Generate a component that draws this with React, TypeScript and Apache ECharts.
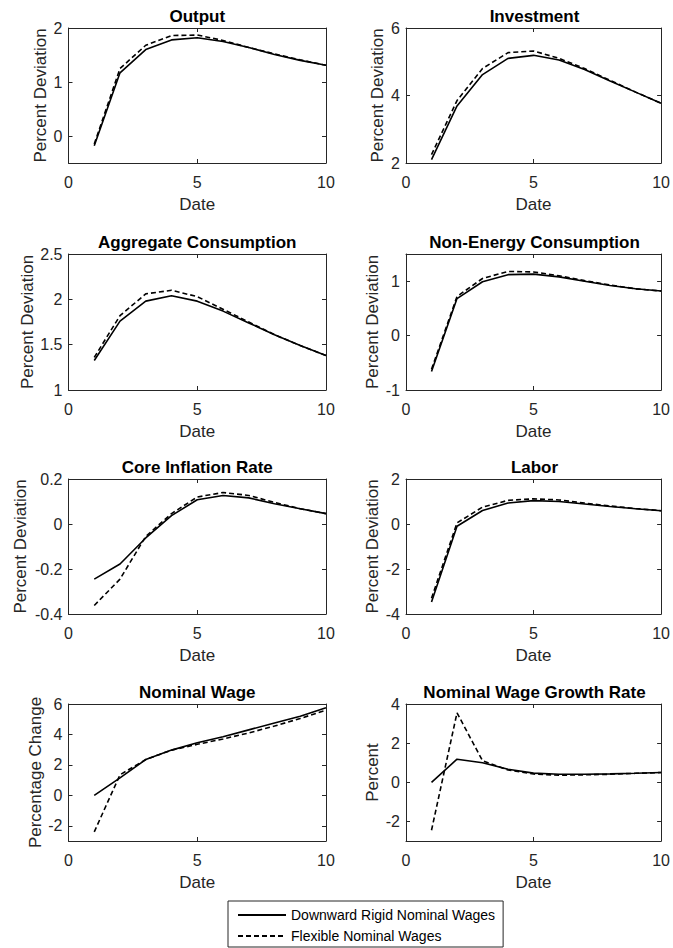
import React, { useEffect, useRef } from "react";
import * as echarts from "echarts";

const dates = [1, 2, 3, 4, 5, 6, 7, 8, 9, 10];
const xTicks = [0, 5, 10];

const seriesNames = ["Downward Rigid Nominal Wages", "Flexible Nominal Wages"];

const outputRigid = [-0.18, 1.17, 1.6, 1.78, 1.82, 1.75, 1.64, 1.51, 1.4, 1.31];
const outputFlex = [-0.15, 1.25, 1.68, 1.86, 1.87, 1.77, 1.64, 1.52, 1.41, 1.31];

const investmentRigid = [2.1, 3.69, 4.62, 5.1, 5.19, 5.05, 4.77, 4.43, 4.1, 3.77];
const investmentFlex = [2.25, 3.85, 4.8, 5.27, 5.32, 5.1, 4.8, 4.45, 4.1, 3.77];

const aggConsRigid = [1.325, 1.76, 1.98, 2.04, 1.98, 1.87, 1.74, 1.61, 1.49, 1.38];
const aggConsFlex = [1.36, 1.82, 2.06, 2.1, 2.03, 1.89, 1.75, 1.61, 1.49, 1.38];

const nonEnergyRigid = [-0.66, 0.68, 0.99, 1.12, 1.13, 1.08, 1.0, 0.92, 0.86, 0.82];
const nonEnergyFlex = [-0.62, 0.72, 1.05, 1.18, 1.17, 1.1, 1.01, 0.93, 0.86, 0.82];

const coreInflRigid = [-0.245, -0.178, -0.062, 0.037, 0.108, 0.127, 0.116, 0.09, 0.068, 0.046];
const coreInflFlex = [-0.362, -0.245, -0.055, 0.046, 0.12, 0.14, 0.127, 0.096, 0.068, 0.046];

const laborRigid = [-3.47, -0.1, 0.6, 0.93, 1.04, 1.0, 0.89, 0.78, 0.68, 0.59];
const laborFlex = [-3.3, 0.05, 0.75, 1.05, 1.12, 1.07, 0.93, 0.8, 0.69, 0.59];

const wageRigid = [0, 1.15, 2.35, 2.97, 3.45, 3.85, 4.3, 4.75, 5.2, 5.75];
const wageFlex = [-2.4, 1.35, 2.35, 2.97, 3.35, 3.7, 4.1, 4.55, 5.05, 5.6];

const growthRigid = [0, 1.18, 1.0, 0.67, 0.47, 0.41, 0.41, 0.43, 0.46, 0.5];
const growthFlex = [-2.45, 3.55, 1.1, 0.63, 0.42, 0.36, 0.38, 0.41, 0.46, 0.5];

const titles = [
  "Output",
  "Investment",
  "Aggregate Consumption",
  "Non-Energy Consumption",
  "Core Inflation Rate",
  "Labor",
  "Nominal Wage",
  "Nominal Wage Growth Rate",
];
const yNames = [
  "Percent Deviation",
  "Percent Deviation",
  "Percent Deviation",
  "Percent Deviation",
  "Percent Deviation",
  "Percent Deviation",
  "Percentage Change",
  "Percent",
];
const yMins = [-0.5, 2, 1, -1, -0.4, -4, -3, -3];
const yMaxs = [2, 6, 2.5, 1.5, 0.2, 2, 6, 4];
const yTicks = [
  [0, 1, 2],
  [2, 4, 6],
  [1, 1.5, 2, 2.5],
  [-1, 0, 1],
  [-0.4, -0.2, 0, 0.2],
  [-4, -2, 0, 2],
  [-2, 0, 2, 4, 6],
  [-2, 0, 2, 4],
];
const rigidData = [outputRigid, investmentRigid, aggConsRigid, nonEnergyRigid, coreInflRigid, laborRigid, wageRigid, growthRigid];
const flexData = [outputFlex, investmentFlex, aggConsFlex, nonEnergyFlex, coreInflFlex, laborFlex, wageFlex, growthFlex];

const AX = "#262626";
const FONT = "Liberation Sans, Arial, Helvetica, sans-serif";

export default function App() {
  const ref = useRef<HTMLDivElement>(null);
  useEffect(() => {
    document.body.style.margin = "0";
    const chart = echarts.init(ref.current!, null, { renderer: "svg" });

    const colLeft = [68.5, 406];
    const colWidth = [257.5, 257];
    const rowTop = [28, 254, 479, 704];
    const rowHeight = [135, 136, 135, 137];
    const nameGaps = [20, 20.5, 33, 25.5, 40, 25.5, 25, 25.5];

    const grids: any[] = [];
    const xAxes: any[] = [];
    const yAxes: any[] = [];
    const series: any[] = [];
    const titleArr: any[] = [];

    for (let i = 0; i < 8; i++) {
      const c = i % 2;
      const r = Math.floor(i / 2);
      grids.push({
        left: colLeft[c],
        top: rowTop[r],
        width: colWidth[c],
        height: rowHeight[r],
        show: false,
      });
      titleArr.push({
        text: titles[i],
        left: colLeft[c] + colWidth[c] / 2,
        top: rowTop[r] - 20,
        textAlign: "center",
        padding: 0,
        textStyle: { fontFamily: FONT, fontSize: 17, fontWeight: "bold", color: "#000" },
      });
      const lineStyle = { color: AX, width: 1 };
      xAxes.push({
        type: "value",
        gridIndex: i,
        min: 0,
        max: 10,
        position: "bottom",
        name: "Date",
        nameLocation: "middle",
        nameGap: 33,
        nameTextStyle: { fontFamily: FONT, fontSize: 17, color: AX },
        axisLine: { show: true, onZero: false, lineStyle },
        axisTick: { show: true, inside: true, length: 4, customValues: xTicks, lineStyle },
        axisLabel: { show: true, customValues: xTicks, margin: 11, fontFamily: FONT, fontSize: 16, color: AX },
        splitLine: { show: false },
      });
      xAxes.push({
        type: "value",
        gridIndex: i,
        min: 0,
        max: 10,
        position: "top",
        axisLine: { show: true, onZero: false, lineStyle },
        axisTick: { show: true, inside: true, length: 4, customValues: xTicks, lineStyle },
        axisLabel: { show: false },
        splitLine: { show: false },
      });
      yAxes.push({
        type: "value",
        gridIndex: i,
        min: yMins[i],
        max: yMaxs[i],
        position: "left",
        name: yNames[i],
        nameLocation: "middle",
        nameGap: nameGaps[i],
        nameTextStyle: { fontFamily: FONT, fontSize: 17, color: AX },
        axisLine: { show: true, onZero: false, lineStyle },
        axisTick: { show: true, inside: true, length: 4, customValues: yTicks[i], lineStyle },
        axisLabel: { show: true, customValues: yTicks[i], margin: 6, fontFamily: FONT, fontSize: 16, color: AX },
        splitLine: { show: false },
      });
      yAxes.push({
        type: "value",
        gridIndex: i,
        min: yMins[i],
        max: yMaxs[i],
        position: "right",
        axisLine: { show: true, onZero: false, lineStyle },
        axisTick: { show: true, inside: true, length: 4, customValues: yTicks[i], lineStyle },
        axisLabel: { show: false },
        splitLine: { show: false },
      });
      series.push({
        type: "line",
        name: seriesNames[0],
        xAxisIndex: i * 2,
        yAxisIndex: i * 2,
        data: dates.map((d, k) => [d, rigidData[i][k]]),
        symbol: "none",
        lineStyle: { color: "#000", width: 1.6, type: "solid" },
        itemStyle: { color: "#000" },
      });
      series.push({
        type: "line",
        name: seriesNames[1],
        xAxisIndex: i * 2,
        yAxisIndex: i * 2,
        data: dates.map((d, k) => [d, flexData[i][k]]),
        symbol: "none",
        lineStyle: { color: "#000", width: 1.6, type: [5, 3] },
        itemStyle: { color: "#000" },
      });
    }

    chart.setOption({
      animation: false,
      backgroundColor: "#fff",
      title: titleArr,
      grid: grids,
      xAxis: xAxes,
      yAxis: yAxes,
      series,
      legend: {
        data: seriesNames,
        orient: "vertical",
        left: 228,
        top: 901,
        padding: [7, 8, 4, 9],
        itemGap: 7,
        itemWidth: 48,
        itemHeight: 14,
        borderColor: AX,
        borderWidth: 1,
        backgroundColor: "#fff",
        selectedMode: false,
        itemStyle: { color: "rgba(0,0,0,0)", borderWidth: 0, opacity: 0 },
        textStyle: { fontFamily: FONT, fontSize: 14, color: "#000" },
      },
    });
    return () => chart.dispose();
  }, []);
  return <div ref={ref} style={{ width: 673, height: 948 }} />;
}
